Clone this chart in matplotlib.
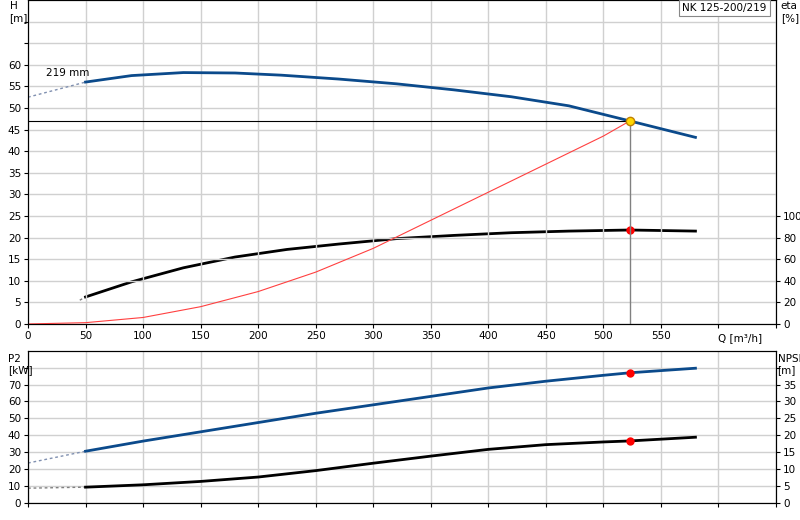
import matplotlib
matplotlib.use("Agg")
import matplotlib.pyplot as plt

q_h = [50, 90, 135, 180, 220, 270, 320, 370, 420, 470, 523, 580]
h = [56, 57.5, 58.2, 58.1, 57.6, 56.7, 55.6, 54.2, 52.6, 50.5, 47, 43.2]
q_hd = [0, 50]; h_d = [52.5, 56]
q_eta = [50, 90, 135, 180, 225, 270, 320, 370, 420, 470, 523, 580]
eta = [25, 39, 52, 62, 69, 74, 79, 82, 84.5, 86, 87, 86]
q_etad = [45, 50]; eta_d = [22, 25]
q_sys = [0, 50, 100, 150, 200, 250, 300, 350, 400, 450, 500, 523]
h_sys = [0, 0.3, 1.5, 4, 7.5, 12, 17.5, 24, 30.5, 37, 43.5, 47]
q_op, h_op, eta_op, p2_op, npsh_op = 523, 47, 87, 77, 18.3
q_b = [50, 100, 150, 200, 250, 300, 350, 400, 450, 500, 523, 580]
p2 = [30.5, 36.5, 42, 47.5, 53, 58, 63, 68, 72, 75.5, 77, 79.7]
p2_d = [23.5, 30.5]
npsh = [4.6, 5.3, 6.3, 7.6, 9.5, 11.7, 13.8, 15.8, 17.2, 18, 18.3, 19.4]
npsh_d = [4.3, 4.6]
xticks = [0, 50, 100, 150, 200, 250, 300, 350, 400, 450, 500, 550]

blue = "#0b4a8b"
gc = "#d0d0d0"
fs = 7.5
fig = plt.figure(figsize=(8, 5.2), dpi=100)
L, W = 0.035, 0.935
ax = fig.add_axes([L, 0.377, W, 0.623])
ax.set_xlim(0, 650); ax.set_ylim(0, 75)
ax.set_xticks(list(range(0, 651, 50)))
ax.set_xticklabels([str(v) for v in xticks] + ["", ""])
ax.set_yticks(list(range(0, 71, 5)))
ax.set_yticklabels([str(v) if v <= 60 else "" for v in range(0, 71, 5)])
ax.grid(True, color=gc, lw=1)
ax.tick_params(labelsize=fs, length=3, pad=2)
ax.plot(q_hd, h_d, ls=(0, (2, 2)), color="#8090b0", lw=1)
ax.plot(q_h, h, color=blue, lw=2)
ax.plot(q_sys, h_sys, color="#ff4040", lw=0.8)
ax.plot([0, q_op], [h_op, h_op], color="black", lw=0.8)
ax.plot([q_op, q_op], [0, h_op], color="#808080", lw=1)
ax.text(16, 57.5, "219 mm", fontsize=fs)
ax.text(600, -2.2, "Q [m³/h]", fontsize=fs, ha="left", va="top")
ax2 = ax.twinx()
ax2.set_ylim(0, 300)
ax2.set_yticks(list(range(0, 101, 20)))
ax2.tick_params(labelsize=fs, length=3, pad=2)
ax2.plot(q_etad, eta_d, ls=(0, (2, 2)), color="#808080", lw=1)
ax2.plot(q_eta, eta, color="black", lw=2)
ax2.plot([q_op], [eta_op], "o", color="red", ms=5)
ax.plot([q_op], [h_op], "o", mfc="#ffd700", mec="#c08000", ms=6, zorder=5)
ax.set_zorder(ax2.get_zorder() + 1); ax.patch.set_visible(False)
fig.text(0.012, 0.998, "H\n[m]", fontsize=fs, va="top", ha="left")
fig.text(0.976, 0.998, "eta\n[%]", fontsize=fs, va="top", ha="left")
fig.text(0.853, 0.985, "NK 125-200/219", fontsize=fs, va="center", ha="left",
         bbox=dict(boxstyle="square,pad=0.3", fc="white", ec="#888888", lw=0.8))

bx = fig.add_axes([L, 0.0333, W, 0.292])
bx.set_xlim(0, 650); bx.set_ylim(0, 90)
bx.set_xticks(list(range(0, 651, 50))); bx.set_xticklabels([])
bx.set_yticks(list(range(0, 81, 10)))
bx.set_yticklabels([str(v) if v <= 70 else "" for v in range(0, 81, 10)])
bx.grid(True, color=gc, lw=1)
bx.tick_params(labelsize=fs, length=3, pad=2)
bx.plot([0, 50], p2_d, ls=(0, (2, 2)), color="#8090b0", lw=1)
bx.plot(q_b, p2, color=blue, lw=2)
bx.plot([q_op], [p2_op], "o", color="red", ms=5, zorder=5)
bx2 = bx.twinx()
bx2.set_ylim(0, 45)
bx2.set_yticks(list(range(0, 41, 5)))
bx2.set_yticklabels([str(v) if v <= 35 else "" for v in range(0, 41, 5)])
bx2.tick_params(labelsize=fs, length=3, pad=2)
bx2.plot([0, 50], npsh_d, ls=(0, (2, 2)), color="#808080", lw=1)
bx2.plot(q_b, npsh, color="black", lw=2)
bx2.plot([q_op], [npsh_op], "o", color="red", ms=5, zorder=5)
fig.text(0.01, 0.32, "P2\n[kW]", fontsize=fs, va="top", ha="left")
fig.text(0.972, 0.32, "NPSH\n[m]", fontsize=fs, va="top", ha="left")
fig.savefig("out.png", dpi=100)
